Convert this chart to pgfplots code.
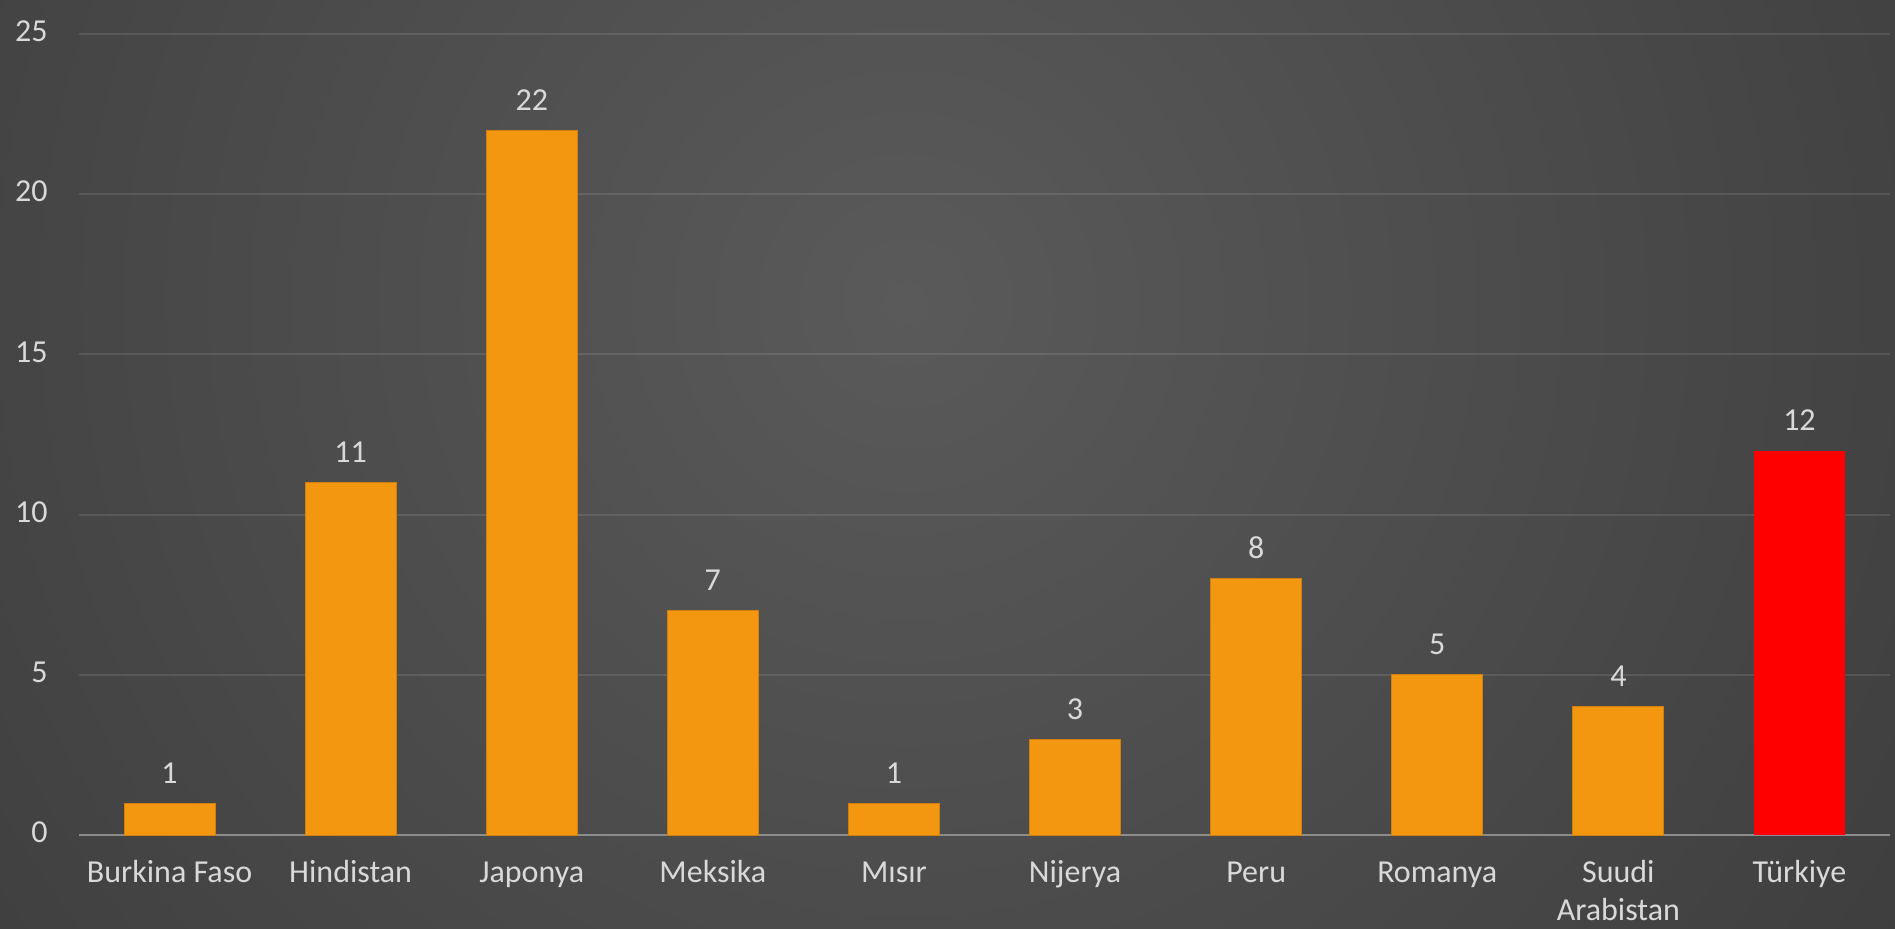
\documentclass[border=0pt]{standalone}
\usepackage{pgfplots}
\pgfplotsset{compat=1.18}
\usepackage{fontspec}
\setmainfont{Carlito}
\definecolor{bgin}{HTML}{5A5A5A}
\definecolor{bgout}{HTML}{262626}
\definecolor{barorange}{HTML}{F39710}
\definecolor{barred}{HTML}{FF0000}
\definecolor{txt}{HTML}{D9D9D9}
\definecolor{axisgray}{HTML}{8C8C8C}
\pgfdeclareradialshading{bgshade}{\pgfpoint{0bp}{0bp}}{color(0bp)=(bgin); color(25bp)=(bgout); color(50bp)=(bgout)}
\begin{document}
\begin{tikzpicture}
\useasboundingbox (0,0) rectangle (947.5pt,464.5pt);
\begin{scope}
\clip (0,0) rectangle (947.5pt,464.5pt);
\shade[shading=bgshade] (453pt,313.5pt) circle (1100pt);
\end{scope}
\begin{axis}[
  at={(39.5pt,46.9pt)}, anchor=south west,
  scale only axis, width=905.5pt, height=400.6pt,
  xmin=-0.5, xmax=9.5, ymin=0, ymax=25,
  ytick={0,5,...,25}, xtick={0,...,9},
  xticklabels={Burkina Faso, Hindistan, Japonya, Meksika, Mısır, Nijerya, Peru, Romanya, Suudi\\Arabistan, Türkiye},
  ymajorgrids, grid style={white, opacity=0.1, line width=1pt},
  axis x line*=bottom, axis y line*=left,
  x axis line style={draw=axisgray, line width=1pt, -},
  y axis line style={draw=none},
  major tick length=0pt, tick style={draw=none},
  tick label style={font=\fontsize{16}{19}\selectfont, text=txt},
  yticklabel style={anchor=east, inner sep=0pt, xshift=-15.5pt},
  xticklabel style={align=center, anchor=north, inner sep=0pt, yshift=-10pt},
  typeset ticklabels with strut,
  /pgf/number format/assume math mode=true,
  ybar, bar width=45.5pt, clip=false,
  nodes near coords,
  every node near coord/.append style={font=\fontsize{16}{20}\selectfont, text=txt, anchor=base, inner sep=0pt, yshift=10pt},
]
\addplot[bar shift=0pt, fill=barorange, draw=barorange!85!black, line width=0.5pt] coordinates {(0,1) (1,11) (2,22) (3,7) (4,1) (5,3) (6,8) (7,5) (8,4)};
\addplot[bar shift=0pt, fill=barred, draw=none] coordinates {(9,12)};
\end{axis}
\end{tikzpicture}
\end{document}
